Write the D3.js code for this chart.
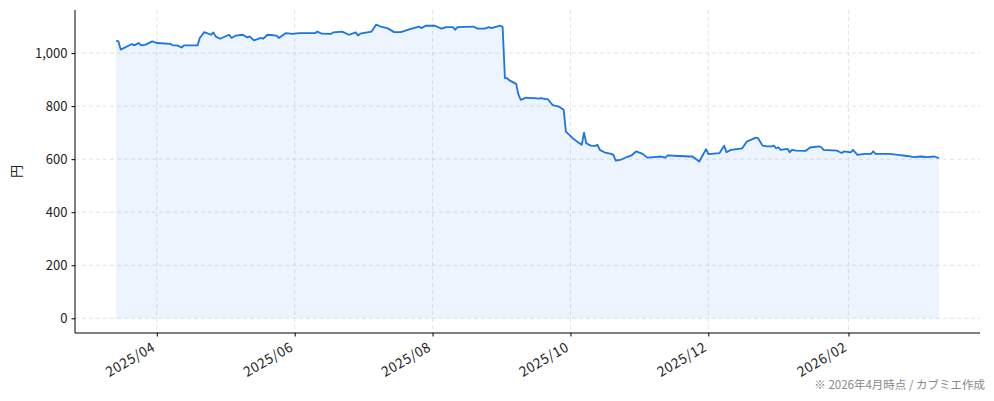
<!DOCTYPE html>
<html lang="ja">
<head>
<meta charset="UTF-8">
<title>株価推移</title>
<script src="https://cdnjs.cloudflare.com/ajax/libs/d3/7.8.5/d3.min.js"></script>
<style>
    body { margin: 0; background: #fff; }
    svg text { font-family: "Noto Sans CJK JP", "Noto Sans", sans-serif; }
</style>
</head>
<body>
<div id="chart"></div>
<script>
    // 終値（円）— 画像から読み取り
    var dates = [
        "2025-03-14","2025-03-15","2025-03-16","2025-03-21","2025-03-22","2025-03-24","2025-03-25","2025-03-27","2025-03-30",
        "2025-04-01","2025-04-07","2025-04-08","2025-04-10","2025-04-12","2025-04-13","2025-04-19","2025-04-20","2025-04-22",
        "2025-04-25","2025-04-26","2025-04-27","2025-04-29","2025-05-03","2025-05-04","2025-05-06","2025-05-09","2025-05-11",
        "2025-05-12","2025-05-14","2025-05-17","2025-05-18","2025-05-20","2025-05-24","2025-05-25","2025-05-28","2025-05-31",
        "2025-06-03","2025-06-10","2025-06-11","2025-06-13","2025-06-17","2025-06-18","2025-06-22","2025-06-25","2025-06-28",
        "2025-06-29","2025-06-30","2025-07-05","2025-07-07","2025-07-09","2025-07-12","2025-07-15","2025-07-18","2025-07-22",
        "2025-07-26","2025-07-27","2025-07-29","2025-08-02","2025-08-05","2025-08-07","2025-08-10","2025-08-11","2025-08-12",
        "2025-08-19","2025-08-21","2025-08-24","2025-08-26","2025-08-27","2025-08-31","2025-09-01","2025-09-02","2025-09-03",
        "2025-09-04","2025-09-07","2025-09-08","2025-09-09","2025-09-10","2025-09-11","2025-09-14","2025-09-15","2025-09-17",
        "2025-09-18","2025-09-20","2025-09-21","2025-09-23","2025-09-24","2025-09-26","2025-09-28","2025-09-29","2025-10-02",
        "2025-10-04","2025-10-06","2025-10-07","2025-10-08","2025-10-10","2025-10-12","2025-10-13","2025-10-14","2025-10-16",
        "2025-10-19","2025-10-20","2025-10-21","2025-10-23","2025-10-26","2025-10-28","2025-10-30","2025-11-02","2025-11-04",
        "2025-11-07","2025-11-10","2025-11-12","2025-11-13","2025-11-18","2025-11-23","2025-11-24","2025-11-27","2025-11-30",
        "2025-12-01","2025-12-06","2025-12-08","2025-12-09","2025-12-11","2025-12-16","2025-12-18","2025-12-22","2025-12-23",
        "2025-12-25","2025-12-27","2025-12-29","2025-12-30","2025-12-31","2026-01-01","2026-01-02","2026-01-05","2026-01-06",
        "2026-01-07","2026-01-09","2026-01-13","2026-01-15","2026-01-19","2026-01-20","2026-01-21","2026-01-27","2026-01-29",
        "2026-01-30","2026-02-02","2026-02-03","2026-02-05","2026-02-08","2026-02-11","2026-02-12","2026-02-13","2026-02-19",
        "2026-02-23","2026-02-27","2026-03-02","2026-03-05","2026-03-08","2026-03-11","2026-03-13"
    ];
    var prices = [
        1046,1045,1013,1034,1029,1038,1029,1032,1044,
        1038,1035,1029,1029,1021,1029,1029,1057,1079,
        1069,1078,1063,1054,1069,1057,1066,1069,1059,
        1063,1048,1057,1054,1069,1066,1057,1075,1072,
        1075,1075,1081,1073,1072,1078,1081,1069,1078,
        1066,1073,1081,1107,1100,1094,1079,1079,1090,
        1100,1094,1103,1103,1092,1098,1098,1088,1098,
        1100,1092,1092,1098,1094,1103,1098,906,905,
        897,884,843,824,826,832,830,830,828,
        830,826,826,805,802,798,786,704,679,
        666,654,700,660,651,650,654,635,626,
        620,616,595,597,608,614,629,620,606,
        608,610,606,614,612,610,610,591,638,
        619,623,651,626,635,641,666,681,679,
        651,648,648,651,641,645,635,639,626,
        635,632,631,644,648,645,635,632,623,
        629,626,635,616,620,620,629,620,620,
        616,612,608,610,608,610,604
    ];
    var yTicks = [0, 200, 400, 600, 800, 1000];
    var xTicks = ["2025-04-01","2025-06-01","2025-08-01","2025-10-01","2025-12-01","2026-02-01"];
    var yLabel = "円";
    var note = "※ 2026年4月時点 / カブミエ作成";

    var width = 994, height = 401;
    var margin = {top: 10, right: 14, bottom: 68, left: 75};
    var lineColor = "#1a73e8";
    var fontSize = 13;

    var parse = d3.timeParse("%Y-%m-%d");
    var data = dates.map(function(d, i) { return {date: parse(d), price: prices[i]}; });

    var svg = d3.select("#chart").append("svg")
        .attr("width", width)
        .attr("height", height);

    // matplotlib風の5%余白
    var xExt = d3.extent(data, function(d) { return d.date; });
    var xPad = (xExt[1] - xExt[0]) * 0.05;
    var x = d3.scaleTime()
        .domain([new Date(+xExt[0] - xPad), new Date(+xExt[1] + xPad)])
        .range([margin.left, width - margin.right]);

    var yMax = d3.max(prices);
    var yPad = yMax * 0.05;
    var y = d3.scaleLinear()
        .domain([-yPad, yMax + yPad])
        .range([height - margin.bottom, margin.top]);

    var tickDates = xTicks.map(parse);

    // グリッド
    var grid = svg.append("g").attr("stroke", "#dcdcdc").attr("stroke-width", 0.8).attr("stroke-dasharray", "4,3");
    grid.selectAll(".gy").data(yTicks).enter().append("line")
        .attr("x1", margin.left).attr("x2", width - margin.right)
        .attr("y1", function(d) { return y(d); }).attr("y2", function(d) { return y(d); });
    grid.selectAll(".gx").data(tickDates).enter().append("line")
        .attr("y1", margin.top).attr("y2", height - margin.bottom)
        .attr("x1", function(d) { return x(d); }).attr("x2", function(d) { return x(d); });

    // 塗り
    svg.append("path")
        .datum(data)
        .attr("fill", lineColor)
        .attr("fill-opacity", 0.08)
        .attr("d", d3.area()
            .x(function(d) { return x(d.date); })
            .y0(y(0))
            .y1(function(d) { return y(d.price); }));

    svg.append("path")
        .datum(data)
        .attr("fill", "none")
        .attr("stroke", lineColor)
        .attr("stroke-width", 1.8)
        .attr("stroke-linejoin", "round")
        .attr("d", d3.line()
            .x(function(d) { return x(d.date); })
            .y(function(d) { return y(d.price); }));

    // 軸
    var yAxis = svg.append("g")
        .attr("transform", "translate(" + margin.left + ",0)")
        .call(d3.axisLeft(y).tickValues(yTicks).tickFormat(d3.format(",")).tickSize(3.5).tickPadding(4));
    yAxis.select(".domain").attr("d", "M0," + margin.top + "V" + (height - margin.bottom));

    var xAxis = svg.append("g")
        .attr("transform", "translate(0," + (height - margin.bottom) + ")")
        .call(d3.axisBottom(x).tickValues(tickDates).tickFormat(d3.timeFormat("%Y/%m")).tickSize(3.5));
    xAxis.select(".domain").attr("d", "M" + margin.left + ",0H" + (width - margin.right));

    svg.selectAll(".tick text").attr("font-size", fontSize).attr("fill", "#222");
    svg.selectAll(".domain, .tick line").attr("stroke", "#000").attr("stroke-width", 1);

    // 右上を目盛りに合わせて30度回転
    xAxis.selectAll(".tick text")
        .attr("x", 0).attr("y", 0).attr("dy", 0)
        .attr("text-anchor", "end")
        .attr("font-size", 13.5)
        .attr("letter-spacing", "0.6px")
        .attr("transform", "translate(-1,17) rotate(-30)");

    svg.append("text")
        .attr("transform", "translate(21," + (margin.top + (height - margin.top - margin.bottom) / 2) + ") rotate(-90)")
        .attr("text-anchor", "middle")
        .attr("font-size", fontSize)
        .attr("fill", "#222")
        .text(yLabel);

    svg.append("text")
        .attr("x", 985)
        .attr("y", 389)
        .attr("text-anchor", "end")
        .attr("font-size", 11.5)
        .attr("fill", "#888")
        .text(note);
</script>
</body>
</html>
